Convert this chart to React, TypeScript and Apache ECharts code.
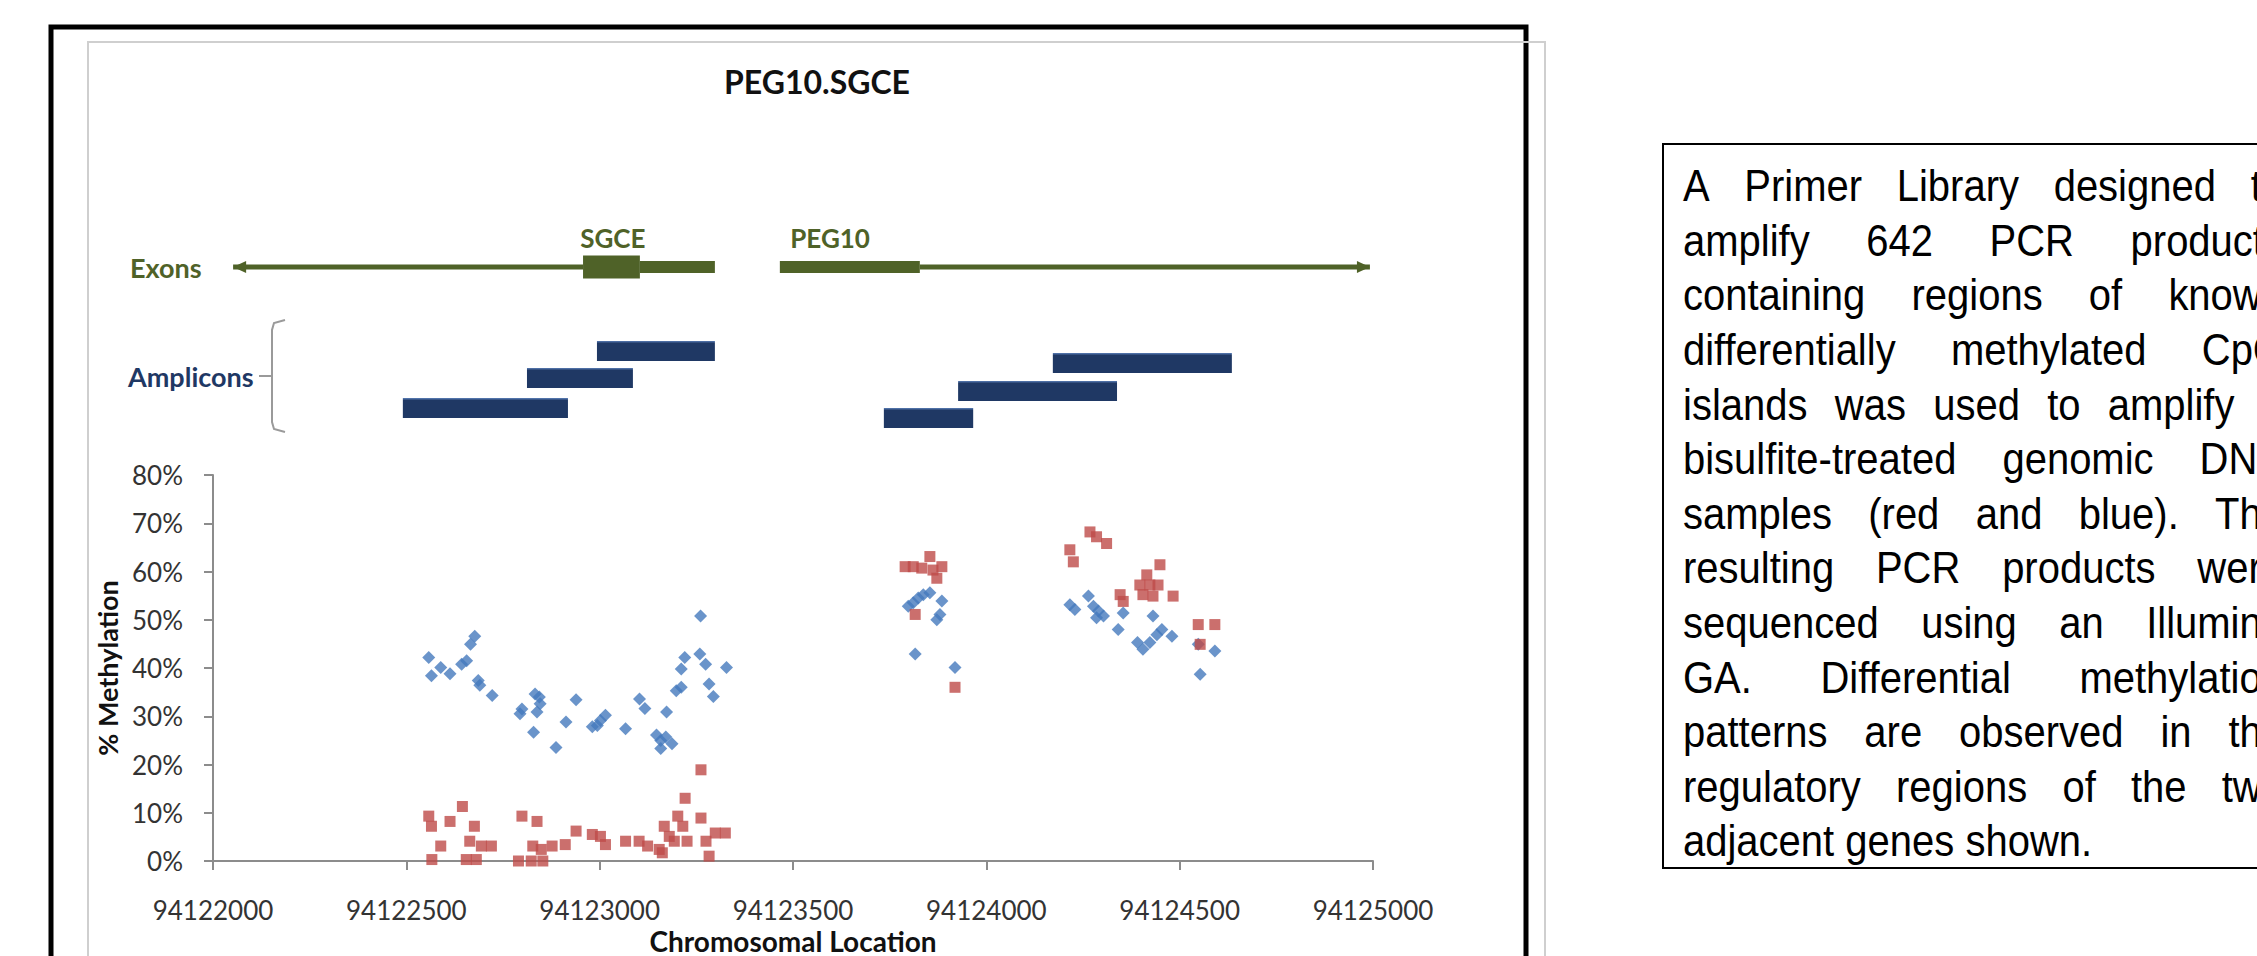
import React, { useEffect, useRef } from "react";
import * as echarts from "echarts";

// ---------- data ----------
const chartTitle = "PEG10.SGCE";
const xAxisTitle = "Chromosomal Location";
const yAxisTitle = "% Methylation";
const xMin = 94122000;
const xMax = 94125000;
const xStep = 500;
const yMin = 0;
const yMax = 80;
const yStep = 10;

const blueSample: [number, number][] = [
  [94122558, 42.2], [94122565, 38.4], [94122589, 40.1], [94122613, 38.8], [94122643, 40.8],
  [94122656, 41.5], [94122666, 44.9], [94122677, 46.6], [94122686, 37.4], [94122690, 36.4],
  [94122722, 34.3], [94122794, 30.5], [94122799, 31.5], [94122829, 26.7], [94122833, 34.6],
  [94122844, 34.0], [94122846, 32.6], [94122838, 30.9], [94122887, 23.5], [94122913, 28.8],
  [94122939, 33.4], [94122981, 27.8], [94122994, 28.1], [94123002, 29.1], [94123015, 30.2],
  [94123067, 27.4], [94123103, 33.6], [94123117, 31.6], [94123173, 30.9], [94123147, 26.1],
  [94123158, 25.0], [94123171, 25.7], [94123187, 24.3], [94123158, 23.3], [94123198, 35.3],
  [94123211, 36.0], [94123211, 39.8], [94123220, 42.2], [94123261, 50.8], [94123259, 42.9],
  [94123274, 40.8], [94123283, 36.7], [94123294, 34.1], [94123328, 40.1],
  [94123798, 52.8], [94123811, 53.5], [94123824, 54.5], [94123837, 55.2], [94123854, 55.6],
  [94123885, 53.9], [94123872, 50.0], [94123880, 51.1], [94123816, 42.9], [94123919, 40.1],
  [94124216, 53.1], [94124229, 52.1], [94124264, 54.9], [94124277, 52.8], [94124290, 51.8],
  [94124303, 50.8], [94124285, 50.4], [94124354, 51.4], [94124341, 48.0], [94124391, 45.3],
  [94124431, 50.8], [94124454, 48.0], [94124480, 46.6], [94124405, 43.9], [94124423, 45.3],
  [94124441, 46.9], [94124548, 44.9], [94124591, 43.5], [94124553, 38.7],
];

const redSample: [number, number][] = [
  [94122558, 9.3], [94122565, 7.2], [94122566, 0.3], [94122589, 3.1], [94122613, 8.2],
  [94122645, 11.3], [94122676, 7.2], [94122664, 4.1], [94122655, 0.3], [94122681, 0.3],
  [94122694, 3.1], [94122720, 3.1], [94122799, 9.3], [94122838, 8.2], [94122790, 0],
  [94122823, 0], [94122853, 0], [94122827, 3.1], [94122849, 2.4], [94122877, 3.1],
  [94122911, 3.4], [94122939, 6.2], [94122981, 5.5], [94123002, 5.1], [94123015, 3.4],
  [94123067, 4.1], [94123102, 4.1], [94123124, 3.1], [94123154, 2.4], [94123167, 7.2],
  [94123180, 5.1], [94123193, 4.1], [94123202, 9.3], [94123215, 7.2], [94123221, 13.0],
  [94123262, 18.9], [94123262, 8.9], [94123275, 4.1], [94123283, 1.0], [94123299, 5.8],
  [94123325, 5.8], [94123226, 4.1], [94123162, 1.7],
  [94123790, 61.0], [94123811, 61.0], [94123833, 60.7], [94123854, 63.1], [94123862, 60.3],
  [94123885, 61.0], [94123872, 58.6], [94123816, 51.1], [94123919, 36.0],
  [94124216, 64.5], [94124225, 62.0], [94124268, 68.2], [94124285, 67.2], [94124311, 65.8],
  [94124346, 55.2], [94124354, 53.8], [94124449, 61.4], [94124415, 59.3], [94124397, 57.2],
  [94124423, 57.2], [94124444, 57.2], [94124405, 55.2], [94124431, 54.9], [94124483, 54.9],
  [94124548, 49.0], [94124591, 49.0], [94124553, 44.9],
];

// amplicons: genomic start / end, and stagger row on the annotation track (0-100)
const ampliconStart = [94122491, 94122812, 94122993, 94123735, 94123927, 94124172];
const ampliconEnd = [94122918, 94123086, 94123298, 94123966, 94124338, 94124635];
const ampliconRow = [14.5, 28.2, 40.5, 10.0, 22.3, 35.0];

// exon track parts: start, end, kind (0 intron line, 1 UTR, 2 coding block), arrow (-1 left, 1 right, 0 none)
const exonStart = [94122052, 94122957, 94123104, 94123466, 94123828];
const exonEnd = [94122957, 94123104, 94123298, 94123828, 94124992];
const exonKind = [0, 2, 1, 1, 0];
const exonArrow = [-1, 0, 0, 0, 1];
const exonRow = 78.6;

const geneNames = ["SGCE", "PEG10"];
const geneLabelAt = [94123034, 94123596];
const geneLabelRow = 91.8;

const noteLines = [
  "A Primer Library designed to",
  "amplify 642 PCR products",
  "containing regions of known",
  "differentially methylated CpG",
  "islands was used to amplify 2",
  "bisulfite-treated genomic DNA",
  "samples (red and blue). The",
  "resulting PCR products were",
  "sequenced using an Illumina",
  "GA. Differential methylation",
  "patterns are observed in the",
  "regulatory regions of the two",
  "adjacent genes shown.",
];

// ---------- styles ----------
const OLIVE = "#4F6228";
const NAVY = "#1F3864";
const BLUE = "#4579BD";
const RED = "#BE4B48";
const AXIS = "#8C8C8C";
const TXT = "#333333";
const CFONT = "Lato";
const NOTE_FONT = 40;
const NOTE_SCALE_Y = 1.1;
const NOTE_X = 1683;
const NOTE_W = 601;
const NOTE_Y0 = 186;
const NOTE_LH = 54.6;

function buildNote(): any[] {
  const cv = document.createElement("canvas");
  const ctx = cv.getContext("2d")!;
  const font = `${NOTE_FONT}px "Liberation Sans"`;
  ctx.font = font;
  const out: any[] = [];
  noteLines.forEach((line, i) => {
    const words = line.split(" ");
    const widths = words.map((w) => ctx.measureText(w).width);
    const total = widths.reduce((a, b) => a + b, 0);
    const last = i === noteLines.length - 1;
    const gap = last || words.length < 2 ? ctx.measureText(" ").width : (NOTE_W - total) / (words.length - 1);
    let x = NOTE_X;
    const y = NOTE_Y0 + i * NOTE_LH;
    words.forEach((w, j) => {
      out.push({
        type: "text",
        x,
        y,
        scaleY: NOTE_SCALE_Y,
        silent: true,
        style: {
          text: w,
          font,
          fill: "#000",
          align: "left",
          verticalAlign: "middle",
          textAlign: "left",
          textVerticalAlign: "middle",
        },
      });
      x += widths[j] + gap;
    });
  });
  return out;
}

function txt(text: string, x: number, y: number, size: number, color: string, opts: any = {}) {
  return {
    type: "text",
    x,
    y,
    silent: true,
    rotation: opts.rotation || 0,
    style: {
      text,
      fill: color,
      font: `${opts.bold ? "bold " : ""}${size}px ${opts.family || CFONT}`,
      align: opts.align || "left",
      verticalAlign: "middle",
      textAlign: opts.align || "left",
      textVerticalAlign: "middle",
    },
  };
}

export default function App() {
  const ref = useRef<HTMLDivElement>(null);
  useEffect(() => {
    if (!ref.current) return;
    const chart = echarts.init(ref.current, null, { renderer: "svg" });

    const exonData = exonStart.map((s, i) => [s, exonEnd[i], exonKind[i], exonArrow[i]]);
    const ampData = ampliconStart.map((s, i) => [s, ampliconEnd[i], ampliconRow[i]]);
    const geneData = geneNames.map((n, i) => [geneLabelAt[i], geneLabelRow, n]);

    const option: any = {
      animation: false,
      backgroundColor: "#ffffff",
      grid: [
        { left: 213, right: 884, top: 475, height: 390, containLabel: false },
        { left: 213, right: 884, top: 220, height: 220, containLabel: false },
      ],
      xAxis: [
        {
          type: "value",
          gridIndex: 0,
          min: xMin,
          max: xMax,
          interval: xStep,
          name: xAxisTitle,
          nameLocation: "middle",
          nameGap: 66,
          nameTextStyle: { fontFamily: CFONT, fontWeight: "bold", fontSize: 28, color: "#111", lineHeight: 28 },
          axisLine: { show: true, onZero: false, lineStyle: { color: AXIS, width: 2 } },
          axisTick: { show: true, length: 9, lineStyle: { color: AXIS, width: 2 } },
          axisLabel: {
            margin: 36,
            fontFamily: CFONT,
            fontSize: 26,
            lineHeight: 26,
            color: TXT,
            formatter: (v: number) => String(v),
          },
          splitLine: { show: false },
        },
        { type: "value", gridIndex: 1, min: xMin, max: xMax, show: false },
      ],
      yAxis: [
        {
          type: "value",
          gridIndex: 0,
          min: yMin,
          max: yMax,
          interval: yStep,
          name: yAxisTitle,
          nameLocation: "middle",
          nameGap: 86,
          nameRotate: 90,
          nameTextStyle: { fontFamily: CFONT, fontWeight: "bold", fontSize: 27, color: "#111" },
          axisLine: { show: true, lineStyle: { color: AXIS, width: 2 } },
          axisTick: { show: true, length: 9, lineStyle: { color: AXIS, width: 2 } },
          axisLabel: {
            margin: 30,
            fontFamily: CFONT,
            fontSize: 26,
            color: TXT,
            formatter: (v: number) => `${v}%`,
          },
          splitLine: { show: false },
        },
        { type: "value", gridIndex: 1, min: 0, max: 100, show: false },
      ],
      series: [
        {
          name: "Blue sample",
          type: "scatter",
          xAxisIndex: 0,
          yAxisIndex: 0,
          symbol: "diamond",
          symbolSize: 13,
          itemStyle: { color: BLUE },
          data: blueSample,
        },
        {
          name: "Red sample",
          type: "scatter",
          xAxisIndex: 0,
          yAxisIndex: 0,
          symbol: "rect",
          symbolSize: 11,
          itemStyle: { color: RED },
          data: redSample,
        },
        {
          name: "Exons",
          type: "custom",
          xAxisIndex: 1,
          yAxisIndex: 1,
          data: exonData,
          renderItem: (params: any, api: any) => {
            const s = api.coord([api.value(0), exonRow]);
            const e = api.coord([api.value(1), exonRow]);
            const kind = api.value(2);
            const arrow = api.value(3);
            const h = kind === 2 ? 23 : kind === 1 ? 12 : 5;
            const children: any[] = [
              {
                type: "rect",
                shape: { x: s[0], y: s[1] - h / 2, width: e[0] - s[0], height: h },
                style: { fill: OLIVE },
              },
            ];
            if (arrow === -1) {
              children.push({
                type: "polygon",
                shape: { points: [[s[0], s[1]], [s[0] + 13, s[1] - 6], [s[0] + 13, s[1] + 6]] },
                style: { fill: OLIVE },
              });
            } else if (arrow === 1) {
              children.push({
                type: "polygon",
                shape: { points: [[e[0], e[1]], [e[0] - 13, e[1] - 6], [e[0] - 13, e[1] + 6]] },
                style: { fill: OLIVE },
              });
            }
            return { type: "group", children };
          },
          silent: true,
        },
        {
          name: "Genes",
          type: "custom",
          xAxisIndex: 1,
          yAxisIndex: 1,
          data: geneData,
          renderItem: (params: any, api: any) => {
            const p = api.coord([api.value(0), api.value(1)]);
            return {
              type: "text",
              x: p[0],
              y: p[1],
              style: {
                text: geneNames[params.dataIndex],
                fill: OLIVE,
                font: `bold 26px ${CFONT}`,
                align: "center",
                verticalAlign: "middle",
                textAlign: "center",
                textVerticalAlign: "middle",
              },
            };
          },
          silent: true,
        },
        {
          name: "Amplicons",
          type: "custom",
          xAxisIndex: 1,
          yAxisIndex: 1,
          data: ampData,
          renderItem: (params: any, api: any) => {
            const s = api.coord([api.value(0), api.value(2)]);
            const e = api.coord([api.value(1), api.value(2)]);
            const h = 20;
            return {
              type: "rect",
              shape: { x: s[0], y: s[1] - h / 2, width: e[0] - s[0], height: h },
              style: {
                fill: new echarts.graphic.LinearGradient(0, 0, 0, 1, [
                  { offset: 0, color: "#5b7fb8" },
                  { offset: 0.12, color: NAVY },
                  { offset: 1, color: NAVY },
                ]),
              },
            };
          },
          silent: true,
        },
      ],
      graphic: [
        {
          type: "rect",
          silent: true,
          shape: { x: 51, y: 27, width: 1475, height: 1000 },
          style: { fill: "none", stroke: "#000", lineWidth: 5 },
        },
        {
          type: "rect",
          silent: true,
          shape: { x: 88, y: 42, width: 1457, height: 1000 },
          style: { fill: "none", stroke: "#CFCFCF", lineWidth: 2 },
        },
        txt(chartTitle, 817, 81, 32, "#111", { bold: true, align: "center" }),
        txt("Exons", 130, 267, 27, OLIVE, { bold: true }),
        txt("Amplicons", 128, 376, 27, NAVY, { bold: true }),
        {
          type: "line",
          silent: true,
          shape: { x1: 259, y1: 376, x2: 272, y2: 376 },
          style: { stroke: "#9A9A9A", lineWidth: 2 },
        },
        {
          type: "polyline",
          silent: true,
          shape: { points: [[285, 320], [274, 323], [272, 330], [272, 422], [274, 429], [285, 432]] },
          style: { stroke: "#9A9A9A", lineWidth: 2, fill: "none" },
        },
        {
          type: "rect",
          silent: true,
          shape: { x: 1663, y: 144, width: 800, height: 724 },
          style: { fill: "none", stroke: "#000", lineWidth: 2 },
        },
        ...buildNote(),
      ],
    };
    chart.setOption(option);
    return () => chart.dispose();
  }, []);
  return (
    <div
      ref={ref}
      style={{ position: "fixed", left: 0, top: 0, width: 2257, height: 956, background: "#fff" }}
    />
  );
}
